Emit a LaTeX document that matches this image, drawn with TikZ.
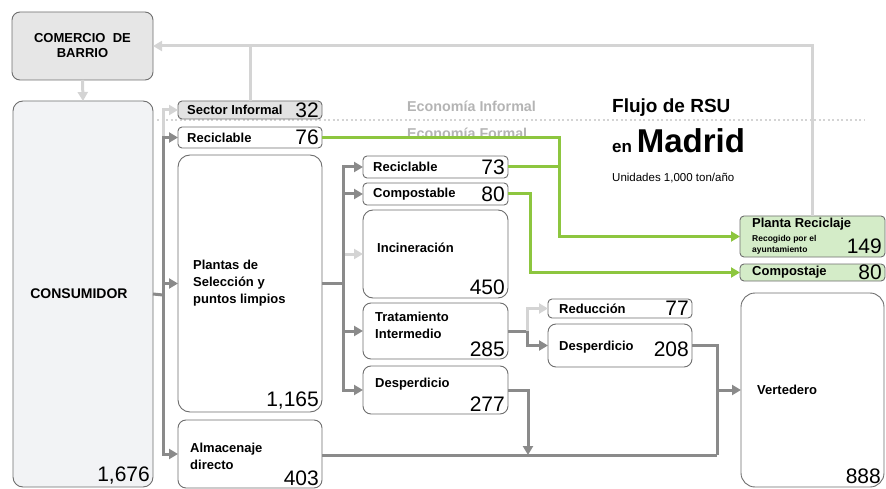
\documentclass[tikz,border=0pt]{standalone}
\usepackage{fontspec}
\setmainfont{Liberation Sans}
\usetikzlibrary{arrows.meta}
\definecolor{flowc}{RGB}{138,138,138}
\definecolor{lightc}{RGB}{212,212,212}
\definecolor{greenc}{RGB}{141,198,63}
\definecolor{boxline}{RGB}{110,110,110}
\definecolor{greenfill}{RGB}{212,236,200}
\definecolor{consfill}{RGB}{242,243,245}
\definecolor{comfill}{RGB}{230,230,230}
\definecolor{secfill}{RGB}{226,226,226}
\definecolor{econ}{RGB}{180,180,180}
\begin{document}
\begin{tikzpicture}[x=1pt,y=-1pt,
  box/.style={draw=boxline, line width=0.9pt, rounded corners=#1, fill=white,
    inner sep=0pt, outer sep=0pt, anchor=north west},
  box/.default=4pt,
  lab/.style={inner sep=0pt, anchor=west, align=left,
    font=\bfseries\fontsize{13}{17}\selectfont},
  num/.style={inner sep=0pt, font=\fontsize{21}{22}\selectfont},
  flow/.style={draw=flowc, line width=3pt},
  flowa/.style={flow, -{Triangle[length=9pt,width=10pt]}},
  lightl/.style={draw=lightc, line width=3pt},
  lighta/.style={lightl, -{Triangle[length=9pt,width=10pt]}},
  greenl/.style={draw=greenc, line width=3pt},
  greena/.style={greenl, -{Triangle[length=9pt,width=10pt]}},
]
\useasboundingbox (0,0) rectangle (886,489);
% dotted separator
\coordinate (dotL) at (157,120);
\coordinate (dotR) at (864,120);
\draw[draw=lightc, line width=2pt, dash pattern=on 2pt off 2.5pt] (dotL) -- (dotR);
\node[anchor=west, inner sep=0pt, text=econ, font=\bfseries\fontsize{14.3}{15}\selectfont] (einf) at (407,106) {Economía Informal};
\node[anchor=west, inner sep=0pt, text=econ, font=\bfseries\fontsize{14.3}{15}\selectfont] (efor) at (407,133) {Economía Formal};

% boxes
\node[box=8pt, fill=comfill, minimum width=141pt, minimum height=68pt] (com) at (12,12) {};
\node[box=10pt, fill=consfill, minimum width=140pt, minimum height=386pt] (cons) at (13,101) {};
\node[box, fill=secfill, minimum width=144pt, minimum height=18pt] (sec) at (178,101) {};
\node[box, minimum width=144pt, minimum height=21pt] (rec1) at (178,127) {};
\node[box=12pt, minimum width=144pt, minimum height=257pt] (pla) at (178,155) {};
\node[box=8pt, minimum width=144pt, minimum height=68pt] (alm) at (178,420) {};
\node[box, minimum width=145pt, minimum height=22pt] (rec2) at (363,156) {};
\node[box, minimum width=145pt, minimum height=22pt] (comp) at (363,183) {};
\node[box=10pt, minimum width=145pt, minimum height=88pt] (inc) at (363,210) {};
\node[box=8pt, minimum width=145pt, minimum height=56pt] (trat) at (363,303) {};
\node[box=8pt, minimum width=145pt, minimum height=48pt] (desp) at (363,366) {};
\node[box, minimum width=144pt, minimum height=19pt] (red) at (548,299) {};
\node[box=8pt, minimum width=144pt, minimum height=43pt] (desp2) at (548,324) {};
\node[box, fill=greenfill, minimum width=145pt, minimum height=41pt] (pr) at (740,216) {};
\node[box, fill=greenfill, minimum width=145pt, minimum height=17pt] (cpj) at (740,264) {};
\node[box=14pt, minimum width=143pt, minimum height=194pt] (vert) at (741,293) {};

% texts
\node[inner sep=0pt, align=center, font=\bfseries\fontsize{13}{15}\selectfont] (comt) at (com.center) {COMERCIO~~DE\\BARRIO};
\node[inner sep=0pt, font=\bfseries\fontsize{14}{15}\selectfont] (const) at ([xshift=-4pt]cons.center) {CONSUMIDOR};
\node[num, anchor=south east] (consn) at ([xshift=-3pt,yshift=3pt]cons.south east) {1,676};
\node[lab] (sect) at ([xshift=9pt]sec.west) {Sector Informal};
\node[num, anchor=east] (secn) at ([xshift=-3pt]sec.east) {32};
\node[lab] (rec1t) at ([xshift=9pt]rec1.west) {Reciclable};
\node[num, anchor=east] (rec1n) at ([xshift=-3pt]rec1.east) {76};
\node[lab] (plat) at ([xshift=15pt]pla.west) {Plantas de\\Selección y\\puntos limpios};
\node[num, anchor=south east] (plan) at ([xshift=-3pt,yshift=3pt]pla.south east) {1,165};
\node[lab] (almt) at ([xshift=12pt,yshift=-2pt]alm.west) {Almacenaje\\directo};
\node[num, anchor=south east] (almn) at ([xshift=-3pt,yshift=2pt]alm.south east) {403};
\node[lab] (rec2t) at ([xshift=10pt]rec2.west) {Reciclable};
\node[num, anchor=east] (rec2n) at ([xshift=-3pt]rec2.east) {73};
\node[lab] (compt) at ([xshift=10pt]comp.west) {Compostable};
\node[num, anchor=east] (compn) at ([xshift=-3pt]comp.east) {80};
\node[lab] (inct) at ([xshift=14pt,yshift=6pt]inc.west) {Incineración};
\node[num, anchor=south east] (incn) at ([xshift=-3pt,yshift=3pt]inc.south east) {450};
\node[lab] (tratt) at ([xshift=12pt,yshift=6pt]trat.west) {Tratamiento\\Intermedio};
\node[num, anchor=south east] (tratn) at ([xshift=-3pt,yshift=2pt]trat.south east) {285};
\node[lab] (despt) at ([xshift=12pt,yshift=6pt]desp.west) {Desperdicio};
\node[num, anchor=south east] (despn) at ([xshift=-3pt,yshift=2pt]desp.south east) {277};
\node[lab] (redt) at ([xshift=11pt]red.west) {Reducción};
\node[num, anchor=east] (redn) at ([xshift=-3pt]red.east) {77};
\node[lab] (desp2t) at ([xshift=11pt,yshift=-1.5pt]desp2.west) {Desperdicio};
\node[num, anchor=east] (desp2n) at ([xshift=-3pt,yshift=-4pt]desp2.east) {208};
\node[lab, anchor=north west] (prt) at ([xshift=12pt,yshift=-2pt]pr.north west) {Planta Reciclaje};
\node[lab, anchor=north west, font=\bfseries\fontsize{8.5}{11}\selectfont] (prs) at ([xshift=12pt,yshift=-19pt]pr.north west) {Recogido por el\\ayuntamiento};
\node[num, anchor=south east] (prn) at ([xshift=-3pt,yshift=3pt]pr.south east) {149};
\node[lab] (cpjt) at ([xshift=12pt]cpj.west) {Compostaje};
\node[num, anchor=east] (cpjn) at ([xshift=-3pt]cpj.east) {80};
\node[lab] (vertt) at ([xshift=16pt]vert.west) {Vertedero};
\node[num, anchor=south east] (vertn) at ([xshift=-3pt,yshift=3pt]vert.south east) {888};

% title
\node[anchor=west, inner sep=0pt, font=\bfseries\fontsize{19}{21}\selectfont] (ttl1) at (612,108) {Flujo de RSU};
\node[anchor=base west, inner sep=0pt, font=\bfseries\fontsize{17}{18}\selectfont] (ttl2) at (612,153) {en {\fontsize{33}{35}\selectfont Madrid}};
\node[anchor=west, inner sep=0pt, font=\fontsize{11.5}{13}\selectfont] (ttl3) at (612,178) {Unidades 1,000 ton/año};

% light connectors (informal economy loop)
\coordinate (topy) at (0,46);
\draw[lighta] (com.south) -- (cons.north);
\draw[lightl] (sec.north) -- (sec.north |- topy);
\draw[lighta] (pr.north) -- (pr.north |- topy) -- (com.east);

% consumidor distribution
\coordinate (t1) at (163,295);
\draw[lighta] (t1 |- rec1.west) -- (t1 |- sec.west) -- (sec.west);
\draw[flow] (cons.east) -- (t1);
\draw[flow, line cap=rect] (t1 |- rec1.west) -- (t1 |- alm.west);
\draw[flowa] (t1 |- rec1.west) -- (rec1.west);
\draw[flowa] (t1 |- pla.west) -- (pla.west);
\draw[flowa] (t1 |- alm.west) -- (alm.west);

% plantas distribution
\coordinate (t2) at (343,285);
\draw[flow] (pla.east) -- (pla.east -| t2);
\draw[lighta] (t2 |- inc.west) -- (inc.west);
\draw[flow, line cap=rect] (t2 |- rec2.west) -- (t2 |- desp.west);
\draw[flowa] (t2 |- rec2.west) -- (rec2.west);
\draw[flowa] (t2 |- comp.west) -- (comp.west);
\draw[flowa] (t2 |- trat.west) -- (trat.west);
\draw[flowa] (t2 |- desp.west) -- (desp.west);

% tratamiento
\coordinate (t3) at (527,331);
\draw[flow] (trat.east) -- (trat.east -| t3);
\draw[lighta] (t3 |- trat.east) -- (t3 |- red.west) -- (red.west);
\draw[flowa] (t3 |- trat.east) -- (t3 |- desp2.west) -- (desp2.west);

% to vertedero
\coordinate (bot) at (0,455);
\coordinate (t4) at (717,392);
\coordinate (t5) at (528,0);
\draw[flow] (alm.east |- bot) -- (t4 |- bot);
\draw[flow] (desp2.east) -- (desp2.east -| t4) -- (t4 |- bot);
\draw[flowa] (desp.east) -- (desp.east -| t5) -- (t5 |- bot);
\draw[flowa] (t4 |- vert.west) -- (vert.west);

% green connectors
\coordinate (g1) at (559,237);
\coordinate (g2) at (530,272.5);
\draw[greenl] (rec2.east) -- (rec2.east -| g1);
\draw[greena] (rec1.east) -- (rec1.east -| g1) -- (g1 |- pr.west) -- (pr.west);
\draw[greena] (comp.east) -- (comp.east -| g2) -- (g2 |- cpj.west) -- (cpj.west);
\end{tikzpicture}
\end{document}
